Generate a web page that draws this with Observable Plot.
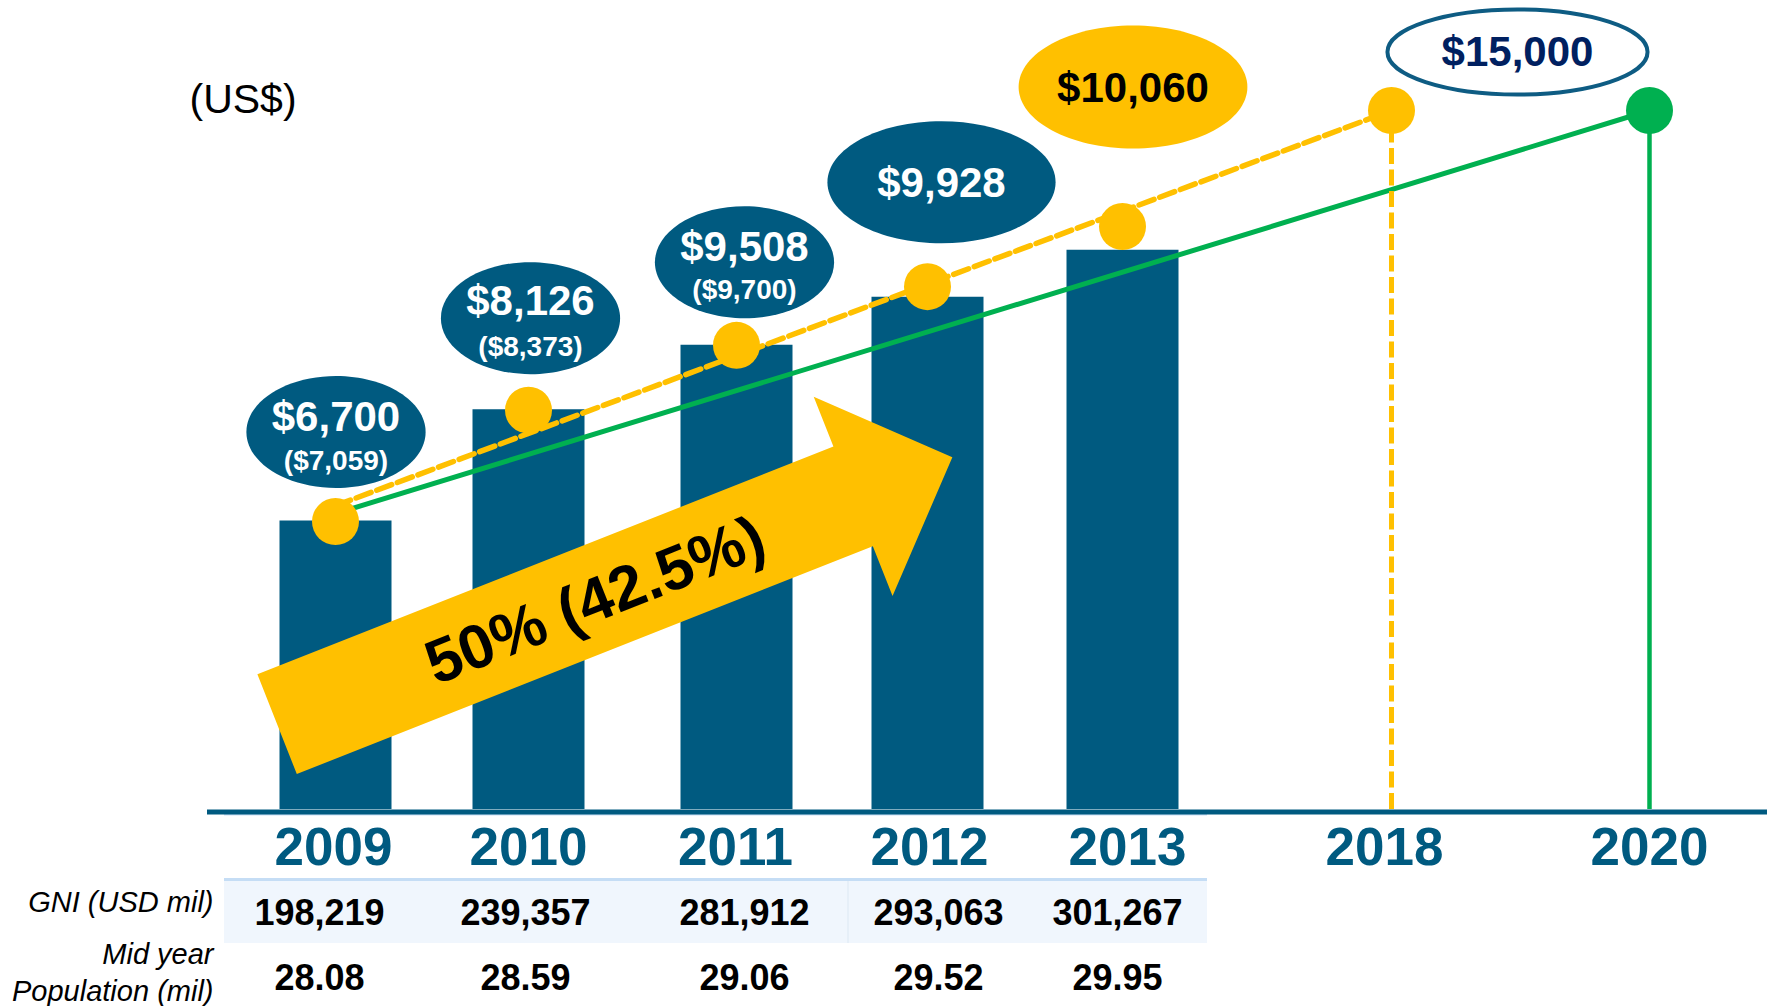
<!DOCTYPE html>
<html>
<head>
<meta charset="utf-8">
<script src="https://cdn.jsdelivr.net/npm/d3@7"></script>
<script src="https://cdn.jsdelivr.net/npm/@observablehq/plot@0.6"></script>
<style>
  html, body { margin: 0; padding: 0; background: #ffffff; }
  #chart svg { display: block; }
</style>
</head>
<body>
<div id="chart"></div>
<script>
// ---------------- DATA ----------------
const years = [2009, 2010, 2011, 2012, 2013];
const targetYears = [2018, 2020];
// bar heights as drawn, in US$ on the chart's own scale (target $15,000 at top)
const barValue = [6190, 8580, 9960, 10990, 12000];
// GNI per capita labels (US$) and revised figures in brackets
const gniPerCapita = [6700, 8126, 9508, 9928, 10060];
const gniPerCapitaRevised = [7059, 8373, 9700, null, null];
// table rows
const gniMillion = [198219, 239357, 281912, 293063, 301267];
const populationMillion = [28.08, 28.59, 29.06, 29.52, 29.95];
// yellow track markers (US$ as drawn)
const trackYears = [2009, 2010, 2011, 2012, 2013, 2018];
const trackValues = [6180, 8570, 9960, 11220, 12510, 15000];
const targetValue = 15000;
const targetLabel = 15000;
// dashed yellow path to 2018 and green path to 2020
const path2018Years = [2009, 2018];
const path2018Values = [6520, 15000];
const path2020Years = [2009, 2020];
const path2020Values = [6350, 15000];
// growth arrow annotation (from tail to tip)
const arrowYears = [2008.70, 2012.13];
const arrowValues = [1820, 7550];
const growthText = "50% (42.5%)";
const unitLabel = "(US$)";
const rowLabels = ["GNI (USD mil)", "Mid year", "Population (mil)"];

// ---------------- STYLE / LAYOUT ----------------
const BLUE = "#005A80";
const YELLOW = "#FFC000";
const GREEN = "#00B050";
const NAVY = "#002060";
const FONT = "Liberation Sans, Arial, Helvetica, sans-serif";

const fmt = d3.format(",");
const allYears = [...years, ...targetYears];
// broken time axis: uneven slot spacing of the years along x (pixels from the 2009 slot)
const yearSlot = d3.scaleLinear().domain(allYears).range([0, 193, 401, 592, 787, 1056, 1314]);

const rows = years.map((year, i) => ({
  year, bar: barValue[i], main: gniPerCapita[i], revised: gniPerCapitaRevised[i],
  gni: gniMillion[i], pop: populationMillion[i]
}));
const track = trackYears.map((year, i) => ({year, value: trackValues[i]}));
const path18 = path2018Years.map((year, i) => ({year, value: path2018Values[i]}));
const path20 = path2020Years.map((year, i) => ({year, value: path2020Values[i]}));

// ellipse symbol for the label bubbles
const ellipse = (aspect) => ({
  draw(ctx, size) {
    const ry = Math.sqrt(size / Math.PI), rx = ry * aspect, k = 0.5523;
    ctx.moveTo(rx, 0);
    ctx.bezierCurveTo(rx, k * ry, k * rx, ry, 0, ry);
    ctx.bezierCurveTo(-k * rx, ry, -rx, k * ry, -rx, 0);
    ctx.bezierCurveTo(-rx, -k * ry, -k * rx, -ry, 0, -ry);
    ctx.bezierCurveTo(k * rx, -ry, rx, -k * ry, rx, 0);
    ctx.closePath();
  }
});

// bubble layout relative to each year's track marker
const bubbleLayout = new Map([
  [2009, {dx: 0.5, dy: -89.5, ry: 56, aspect: 1.6, main: -103.5, rev: -60, fill: BLUE, text: "#fff"}],
  [2010, {dx: 2, dy: -92, ry: 56, aspect: 1.6, main: -108.5, rev: -63.5, fill: BLUE, text: "#fff"}],
  [2011, {dx: 8, dy: -83, ry: 56, aspect: 1.6, main: -97.5, rev: -55, fill: BLUE, text: "#fff"}],
  [2012, {dx: 14, dy: -104.5, ry: 61, aspect: 1.87, main: -103, rev: 0, fill: BLUE, text: "#fff"}],
  [2013, {dx: 10.5, dy: -139.5, ry: 61.5, aspect: 1.86, main: -138, rev: 0, fill: YELLOW, text: "#000"}]
]);
// small horizontal nudges of the table columns and year labels
const tableColumnDx = new Map([[2009, -16], [2010, -3], [2011, 8], [2012, 11], [2013, -5]]);
const yearLabelDx = new Map([[2009, -2], [2010, 0], [2011, -1], [2012, 2], [2013, 5], [2018, -7], [2020, 0]]);

const bubbleMarks = [];
rows.forEach((r) => {
  const L = bubbleLayout.get(r.year);
  const anchor = track.find(t => t.year === r.year);
  bubbleMarks.push(Plot.dot([anchor], {x: "year", y: "value", dx: L.dx, dy: L.dy, r: L.ry,
    symbol: ellipse(L.aspect), fill: L.fill}));
  bubbleMarks.push(Plot.text([anchor], {x: "year", y: "value", dx: L.dx, dy: L.main,
    text: () => "$" + fmt(r.main), fill: L.text, fontSize: 42, fontWeight: "bold"}));
  if (r.revised != null) {
    bubbleMarks.push(Plot.text([anchor], {x: "year", y: "value", dx: L.dx, dy: L.rev,
      text: () => "($" + fmt(r.revised) + ")", fill: L.text, fontSize: 28, fontWeight: "bold"}));
  }
});
// target bubble between 2018 and 2020
const targetAnchor = [{year: (targetYears[0] + targetYears[1]) / 2, value: targetValue}];
bubbleMarks.push(Plot.dot(targetAnchor, {x: "year", y: "value", dx: -3, dy: -58.5, r: 42.5,
  symbol: ellipse(3.06), fill: "#fff", stroke: "#0E5C83", strokeWidth: 4}));
bubbleMarks.push(Plot.text(targetAnchor, {x: "year", y: "value", dx: -3, dy: -57.5,
  text: () => "$" + fmt(targetLabel), fill: NAVY, fontSize: 42, fontWeight: "bold"}));

// table values, one mark per column
const tableMarks = [];
rows.forEach((r) => {
  const dx = tableColumnDx.get(r.year);
  tableMarks.push(Plot.text([r], {x: "year", frameAnchor: "bottom", lineAnchor: "middle", dx, dy: 104,
    text: d => fmt(d.gni), fontSize: 36, fontWeight: "bold", fill: "#000"}));
  tableMarks.push(Plot.text([r], {x: "year", frameAnchor: "bottom", lineAnchor: "middle", dx, dy: 169,
    text: d => d3.format(".2f")(d.pop), fontSize: 36, fontWeight: "bold", fill: "#000"}));
});

// year labels along the axis (axis mark per tick for small nudges)
const axisMarks = allYears.map((year) => Plot.axisX([year], {tickSize: 0, tickPadding: 18,
  tickFormat: d => String(d), label: null, dx: yearLabelDx.get(year),
  fontSize: 53, fontWeight: "bold", color: BLUE}));

// helper: plot's x scale applied to a year (scale transform + scale)
const px = (scales, year) => scales.x(yearSlot(year));

// growth arrow (custom mark using the plot's scales)
function growthArrow(index, scales) {
  const x0 = px(scales, arrowYears[0]), y0 = scales.y(arrowValues[0]);
  const x1 = px(scales, arrowYears[1]), y1 = scales.y(arrowValues[1]);
  const len = Math.hypot(x1 - x0, y1 - y0);
  const ux = (x1 - x0) / len, uy = (y1 - y0) / len;
  const nx = -uy, ny = ux;
  const sw = 53.6, hw = 107.2, hl = 106.7;
  const bx = x1 - ux * hl, by = y1 - uy * hl;
  const pts = [
    [x0 + nx * sw, y0 + ny * sw], [bx + nx * sw, by + ny * sw], [bx + nx * hw, by + ny * hw],
    [x1, y1],
    [bx - nx * hw, by - ny * hw], [bx - nx * sw, by - ny * sw], [x0 - nx * sw, y0 - ny * sw]
  ];
  const g = d3.create("svg:g");
  g.append("path").attr("d", "M" + pts.map(p => p.join(",")).join("L") + "Z").attr("fill", YELLOW);
  const t = 0.47;
  const tx = x0 + (x1 - x0) * t, ty = y0 + (y1 - y0) * t;
  const angle = Math.atan2(y1 - y0, x1 - x0) * 180 / Math.PI;
  g.append("text")
    .attr("transform", `translate(${tx},${ty}) rotate(${angle})`)
    .attr("text-anchor", "middle").attr("dy", "0.36em")
    .attr("font-size", 62).attr("font-weight", "bold").attr("font-family", FONT)
    .attr("fill", "#000").text(growthText);
  return g.node();
}

// light table chrome under the axis
function tableChrome(index, scales, values, dims) {
  const base = dims.height - dims.marginBottom;
  const left = px(scales, years[0]) - 111, right = px(scales, years[years.length - 1]) + 85;
  const g = d3.create("svg:g");
  g.append("rect").attr("x", left).attr("y", base + 5).attr("width", right - left).attr("height", 1.5).attr("fill", "#C9DEF4");
  g.append("rect").attr("x", left).attr("y", base + 72).attr("width", right - left).attr("height", 62).attr("fill", "#F0F6FD");
  g.append("rect").attr("x", left).attr("y", base + 69).attr("width", right - left).attr("height", 3).attr("fill", "#C5DDF5");
  g.append("rect").attr("x", (px(scales, years[2]) + px(scales, years[3])) / 2 + 16).attr("y", base + 72).attr("width", 1).attr("height", 62).attr("fill", "#DCE7F4");
  return g.node();
}

const chart = Plot.plot({
  width: 1772,
  height: 1006,
  marginLeft: 207,
  marginRight: 5,
  marginTop: 0,
  marginBottom: 197,
  style: {fontFamily: FONT, background: "#ffffff", overflow: "visible"},
  x: {transform: yearSlot, domain: [0, 1314], range: [335, 1649]},
  y: {domain: [0, 15000], range: [809, 110], axis: null},
  marks: [
    tableChrome,
    // bars
    Plot.ruleX(rows, {x: "year", y1: 0, y2: "bar", stroke: BLUE, strokeWidth: 112}),
    // growth arrow
    growthArrow,
    // paths
    Plot.line(path20, {x: "year", y: "value", stroke: GREEN, strokeWidth: 5}),
    Plot.line(path18, {x: "year", y: "value", stroke: YELLOW, strokeWidth: 5.5, strokeDasharray: "16,6"}),
    Plot.ruleX([targetYears[0]], {y1: 0, y2: targetValue, stroke: YELLOW, strokeWidth: 5, strokeDasharray: "16,5.5"}),
    Plot.ruleX([targetYears[1]], {y1: 0, y2: targetValue, stroke: GREEN, strokeWidth: 4.5}),
    // markers
    Plot.dot(track, {x: "year", y: "value", r: 23.5, fill: YELLOW}),
    Plot.dot([{year: targetYears[1], value: targetValue}], {x: "year", y: "value", r: 23.5, fill: GREEN}),
    // bubbles
    ...bubbleMarks,
    // baseline axis
    Plot.ruleY([0], {stroke: BLUE, strokeWidth: 5, dy: 2.5}),
    ...axisMarks,
    // table values
    ...tableMarks,
    // row labels
    Plot.text([rowLabels[0]], {frameAnchor: "bottom-left", lineAnchor: "middle", text: d => d, dx: 6, dy: 93.5,
      textAnchor: "end", fontSize: 29, fontStyle: "italic", fill: "#000"}),
    Plot.text([rowLabels[1]], {frameAnchor: "bottom-left", lineAnchor: "middle", text: d => d, dx: 6, dy: 145,
      textAnchor: "end", fontSize: 29, fontStyle: "italic", fill: "#000"}),
    Plot.text([rowLabels[2]], {frameAnchor: "bottom-left", lineAnchor: "middle", text: d => d, dx: 6, dy: 182,
      textAnchor: "end", fontSize: 29, fontStyle: "italic", fill: "#000"}),
    // unit label
    Plot.text([unitLabel], {frameAnchor: "top-left", lineAnchor: "middle", text: d => d, dx: -18, dy: 99,
      textAnchor: "start", fontSize: 41, fill: "#000"})
  ]
});
document.getElementById("chart").append(chart);
</script>
</body>
</html>
